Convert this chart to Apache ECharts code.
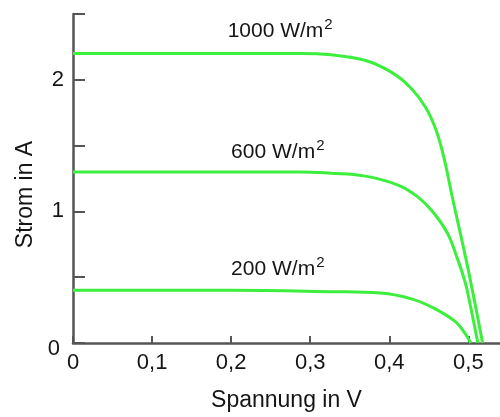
<!DOCTYPE html>
<html>
<head>
<meta charset="utf-8">
<script src="https://cdn.jsdelivr.net/npm/echarts@6/dist/echarts.min.js"></script>
<style>
  html, body { margin: 0; padding: 0; background: #fff; }
  #chart { width: 500px; height: 417px; }
</style>
</head>
<body>
<div id="chart"></div>
<script>
// I-V Kennlinien einer Solarzelle, [Spannung V, Strom A]
const curve1000 = [
  [0, 2.2], [0.1, 2.2], [0.2, 2.2], [0.288, 2.2], [0.326, 2.19], [0.368, 2.15],
  [0.402, 2.06], [0.427, 1.94], [0.446, 1.79], [0.459, 1.62], [0.469, 1.41],
  [0.48, 1.1], [0.499, 0.58], [0.518, 0]
];
const curve600 = [
  [0, 1.3], [0.1, 1.3], [0.2, 1.3], [0.288, 1.3], [0.326, 1.29], [0.368, 1.27],
  [0.411, 1.2], [0.436, 1.11], [0.456, 0.99], [0.474, 0.83], [0.485, 0.66],
  [0.496, 0.46], [0.503, 0.27], [0.512, 0]
];
const curve200 = [
  [0, 0.4], [0.1, 0.4], [0.2, 0.4], [0.326, 0.39], [0.389, 0.38], [0.431, 0.33],
  [0.461, 0.25], [0.484, 0.16], [0.495, 0.08], [0.503, 0]
];
const seriesNames = ['1000', '600', '200'];

const font = '"Liberation Sans", Arial, Helvetica, sans-serif';
const green = '#3cef3c';
const axisGray = '#555';
const textColor = '#151515';

const chart = echarts.init(document.getElementById('chart'));

const irradianceLabel = (name, coord) => ({
  symbol: 'circle',
  symbolSize: 0,
  silent: true,
  data: [{ coord: coord }],
  label: {
    show: true,
    position: 'inside',
    formatter: `{a|${name} W/m}{s|2}`,
    rich: {
      a: { fontSize: 21, color: textColor, fontFamily: font },
      s: { fontSize: 15, color: textColor, fontFamily: font, padding: [0, 0, 12, 1] }
    }
  }
});

const lineSeries = (name, data, labelCoord) => ({
  name: name,
  type: 'line',
  data: data,
  smooth: 0.4,
  showSymbol: false,
  symbol: 'none',
  lineStyle: { color: green, width: 3 },
  markPoint: irradianceLabel(name, labelCoord)
});

chart.setOption({
  animation: false,
  grid: { left: 73, right: 0, top: 14, bottom: 73 },
  xAxis: {
    type: 'value',
    min: 0,
    max: 0.54,
    interval: 0.1,
    name: 'Spannung in V',
    nameLocation: 'middle',
    nameGap: 46,
    nameTextStyle: { fontSize: 23, color: textColor, fontFamily: font },
    axisLine: { show: true, lineStyle: { color: axisGray, width: 2.5 } },
    axisTick: { show: true, inside: true, length: 7, lineStyle: { color: axisGray, width: 2 } },
    axisLabel: {
      fontSize: 22,
      color: textColor,
      fontFamily: font,
      margin: 9,
      showMaxLabel: false,
      formatter: v => (v === 0 ? '0' : v.toFixed(1).replace('.', ','))
    },
    splitLine: { show: false }
  },
  yAxis: {
    type: 'value',
    min: 0,
    max: 2.5,
    interval: 0.5,
    name: 'Strom in A',
    nameLocation: 'middle',
    nameGap: 35,
    nameTextStyle: { fontSize: 23, color: textColor, fontFamily: font, padding: [0, 32, 0, 0] },
    axisLine: { show: true, lineStyle: { color: axisGray, width: 2.5 } },
    axisTick: { show: true, inside: true, length: 12, lineStyle: { color: axisGray, width: 2 } },
    axisLabel: {
      fontSize: 22,
      color: textColor,
      fontFamily: font,
      margin: 9,
      formatter: v => {
        if (v === 0) return '{z|0}';
        return Number.isInteger(v) ? String(v) : '';
      },
      rich: {
        z: { fontSize: 22, color: textColor, fontFamily: font, padding: [12, 4, 0, 0] }
      }
    },
    splitLine: { show: false }
  },
  series: [
    lineSeries(seriesNames[0], curve1000, [0.262, 2.37]),
    lineSeries(seriesNames[1], curve600, [0.259, 1.45]),
    lineSeries(seriesNames[2], curve200, [0.259, 0.56])
  ]
});
</script>
</body>
</html>
